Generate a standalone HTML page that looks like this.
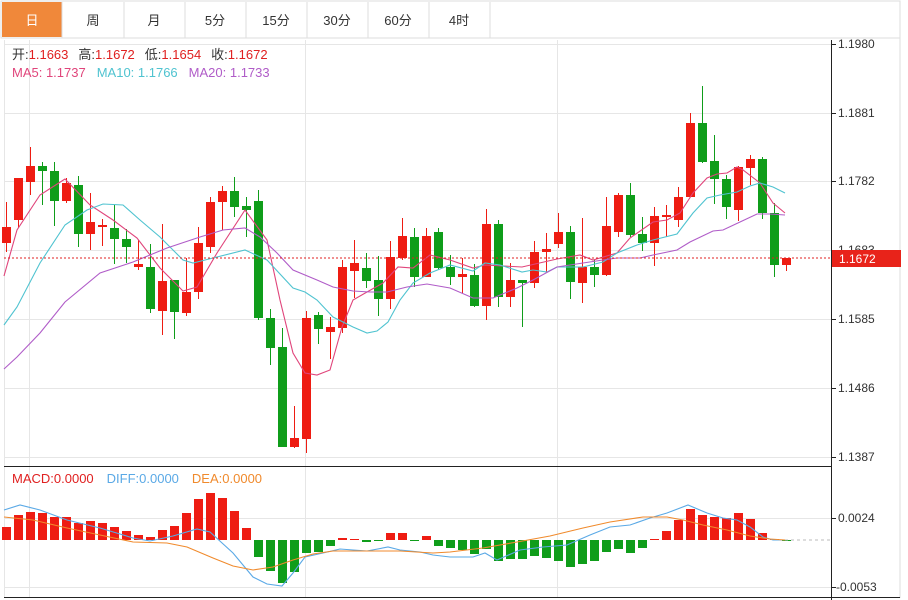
<!DOCTYPE html>
<html><head><meta charset="utf-8"><style>
body{margin:0;background:#fff;width:908px;height:600px;overflow:hidden;font-family:"Liberation Sans","Noto Sans CJK SC",sans-serif}
svg{position:absolute;left:0;top:0}
</style></head><body>
<svg width="908" height="600" xmlns="http://www.w3.org/2000/svg" font-family="Liberation Sans, Noto Sans CJK SC, sans-serif">
<g id="tabs" stroke="#ddd" fill="#fff">
<rect x="1" y="1" width="899" height="37"/>
</g>
<rect x="2" y="2" width="60" height="35" fill="#f0883a"/>
<g stroke="#ddd"><line x1="62" y1="2" x2="62" y2="38"/><line x1="124" y1="2" x2="124" y2="38"/><line x1="185" y1="2" x2="185" y2="38"/><line x1="246" y1="2" x2="246" y2="38"/><line x1="307" y1="2" x2="307" y2="38"/><line x1="368" y1="2" x2="368" y2="38"/><line x1="429" y1="2" x2="429" y2="38"/><line x1="490" y1="2" x2="490" y2="38"/>
<line x1="900" y1="38" x2="900" y2="598"/></g>
<g font-size="13" text-anchor="middle" fill="#333">
<text x="32" y="25" fill="#fff">日</text><text x="93" y="25">周</text><text x="154" y="25">月</text><text x="215" y="25">5分</text><text x="276" y="25">15分</text><text x="337" y="25">30分</text><text x="398" y="25">60分</text><text x="459" y="25">4时</text>
</g>
<g id="grid" stroke="#e6e6e6" stroke-width="1"></g>
<g id="main"></g>
<line x1="4" y1="258" x2="831" y2="258" stroke="#e02020" stroke-dasharray="2,2"/>
<line x1="4" y1="466.5" x2="831" y2="466.5" stroke="#222"/>
<line x1="4" y1="597.5" x2="900" y2="597.5" stroke="#222"/>
<line x1="831.5" y1="40" x2="831.5" y2="600" stroke="#222"/>
<g id="ticks" stroke="#222"></g>
<g font-size="12" fill="#333">
<text x="838" y="48">1.1980</text><text x="838" y="117">1.1881</text><text x="838" y="185">1.1782</text><text x="838" y="254">1.1683</text><text x="838" y="323">1.1585</text><text x="838" y="392">1.1486</text><text x="838" y="461">1.1387</text>
<text x="838" y="522">0.0024</text><text x="836" y="591">-0.0053</text>
</g>
<rect x="832" y="250" width="69" height="17" fill="#e8231a"/>
<text x="839" y="263" font-size="12" fill="#fff">1.1672</text>
<g font-size="13">
<text x="12" y="59"><tspan fill="#333">开:</tspan><tspan fill="#e02020">1.1663</tspan><tspan fill="#333" dx="10">高:</tspan><tspan fill="#e02020">1.1672</tspan><tspan fill="#333" dx="10">低:</tspan><tspan fill="#e02020">1.1654</tspan><tspan fill="#333" dx="10">收:</tspan><tspan fill="#e02020">1.1672</tspan></text>
<text x="12" y="77"><tspan fill="#e0457b">MA5: 1.1737</tspan><tspan fill="#4fc3d0" dx="11">MA10: 1.1766</tspan><tspan fill="#b05cc8" dx="11">MA20: 1.1733</tspan></text>
<text x="12" y="483"><tspan fill="#e02020">MACD:0.0000</tspan><tspan fill="#5aa9e6" dx="13">DIFF:0.0000</tspan><tspan fill="#f08a2c" dx="13">DEA:0.0000</tspan></text>
</g>
</svg>
<script>
var NS="http://www.w3.org/2000/svg",svg=document.querySelector('svg');
function el(p,t,a){var e=document.createElementNS(NS,t);for(var k in a)e.setAttribute(k,a[k]);p.appendChild(e);return e;}
var grid=document.getElementById('grid'),main=document.getElementById('main'),tk=document.getElementById('ticks');
[44,113,181,250,319,388,457,518,587].forEach(function(y){el(grid,'line',{x1:4,y1:y+.5,x2:831,y2:y+.5});el(tk,'line',{x1:831,y1:y+.5,x2:836,y2:y+.5});});
[29,305,557].forEach(function(x){el(grid,'line',{x1:x+.5,y1:40,x2:x+.5,y2:597});});
el(grid,'line',{x1:4.5,y1:40,x2:4.5,y2:597});
var C=[[227,243,202,252,1],[178,220,178,228,1],[166,182,147,195,1],[166,171,162,205,0],[171,201,162,226,0],[183,201,178,203,1],[185,234,176,247,0],[222,234,193,250,1],[225,226,219,246,1],[228,239,205,264,0],[239,247,229,263,0],[264,267,240,270,1],[267,309,244,313,0],[281,311,224,335,1],[280,312,280,339,0],[292,313,258,316,1],[243,292,227,299,1],[202,247,197,253,1],[191,202,186,230,1],[191,207,177,217,0],[206,210,197,237,0],[201,318,190,320,0],[318,348,309,365,0],[347,447,328,447,0],[438,447,406,448,1],[318,439,311,453,1],[315,329,312,344,0],[327,332,317,359,1],[267,328,260,333,1],[263,271,240,298,1],[268,281,253,288,0],[280,299,256,316,0],[257,299,241,309,1],[236,258,218,260,1],[237,277,228,287,0],[236,277,228,277,1],[232,268,228,270,0],[267,277,255,285,0],[274,277,258,293,1],[275,306,264,307,0],[224,306,209,320,1],[224,297,220,307,0],[280,297,263,307,1],[280,283,280,327,0],[252,283,241,288,1],[249,252,233,273,1],[232,244,213,248,1],[232,282,226,299,0],[267,283,218,303,1],[267,275,260,287,0],[226,275,197,276,1],[195,232,193,237,1],[195,235,183,237,0],[234,243,217,251,0],[216,243,207,266,1],[215,217,205,237,1],[197,220,187,227,1],[123,197,113,197,1],[123,162,86,163,0],[161,179,135,204,0],[179,207,175,219,0],[167,210,166,221,1],[159,168,155,185,1],[159,213,157,219,0],[213,265,203,277,0],[258,265,258,271,1]];
C.forEach(function(c,i){var x=6+12*i,col=c[4]?'#ee1c12':'#0f9d1a';
el(main,'line',{x1:x+.5,y1:c[2],x2:x+.5,y2:c[3],stroke:col});
el(main,'rect',{x:x-4,y:c[0],width:9,height:Math.max(2,c[1]-c[0]),fill:col});});
var M=[527,515,512,513,517,517,523,521,523,527,531,535,537,530,526,513,499,493,498,511,528,557,571,583,572,553,552,546,538,539,542,541,533,533,541,536,546,548,550,554,549,561,559,559,556,558,561,567,564,561,552,549,553,548,539,531,520,509,515,517,518,513,519,533,539,540];
M.forEach(function(y,i){var x=6+12*i,col=y<540?'#ee1c12':'#0f9d1a';var t=Math.min(y,540),h=Math.max(1,Math.abs(y-540));
el(main,'rect',{x:x-4,y:t,width:9,height:h,fill:col});});
el(main,'line',{x1:785,y1:540,x2:831,y2:540,stroke:'#bbb','stroke-dasharray':'3,3'});
function pl(pts,col){el(main,'polyline',{points:pts,fill:'none',stroke:col,'stroke-width':1.1});}
pl("4,276 17,230 40,195 65,179 90,205 113,220 137,238 160,268 183,291 197,287 217,253 245,210 267,240 280,300 293,353 305,373 317,375 330,370 342,327 353,300 367,292 383,283 398,267 413,268 430,255 450,260 473,268 485,265 522,267 557,259 580,255 593,260 617,253 630,238 653,222 667,220 680,213 693,193 707,178 717,174 727,173 737,167 743,170 760,183 773,203 785,213","#e0457b");
pl("4,325 17,307 40,263 65,225 87,210 103,204 123,205 140,220 160,237 183,260 193,263 213,258 245,250 267,260 293,288 305,292 317,300 333,317 353,327 367,333 377,331 388,322 400,300 413,283 430,273 450,265 473,271 485,263 500,265 522,272 533,270 547,272 557,267 583,267 603,262 617,253 637,245 653,240 677,234 693,213 707,198 720,195 737,192 750,186 760,183 773,187 785,193","#4fc3d0");
pl("4,369 17,357 40,333 65,302 100,273 133,262 167,248 200,237 223,230 245,228 260,237 277,253 293,270 317,280 333,287 353,291 370,292 387,292 407,287 427,284 450,288 473,298 493,298 517,288 533,280 557,267 583,263 603,260 617,258 640,258 653,255 677,250 690,242 713,231 723,230 740,222 757,214 770,214 785,215","#b05cc8");
pl("4,510 20,505 40,510 67,520 100,528 133,538 150,541 173,536 197,529 210,532 233,553 253,577 267,584 282,586 293,573 305,557 323,553 340,549 367,551 388,547 400,550 420,552 433,555 450,557 473,557 485,553 497,560 520,550 543,547 567,545 590,535 610,527 630,525 650,518 667,513 688,505 707,513 723,518 737,520 750,527 763,537 773,540 785,540","#5aa9e6");
pl("4,517 33,520 67,528 100,535 133,542 167,543 187,547 213,558 233,566 253,570 273,567 293,560 313,554 333,551 367,551 400,551 433,553 450,552 483,548 517,542 550,536 583,528 610,522 643,517 667,517 683,520 703,525 727,530 750,536 770,539 785,540","#f08a2c");
</script>
</body></html>
